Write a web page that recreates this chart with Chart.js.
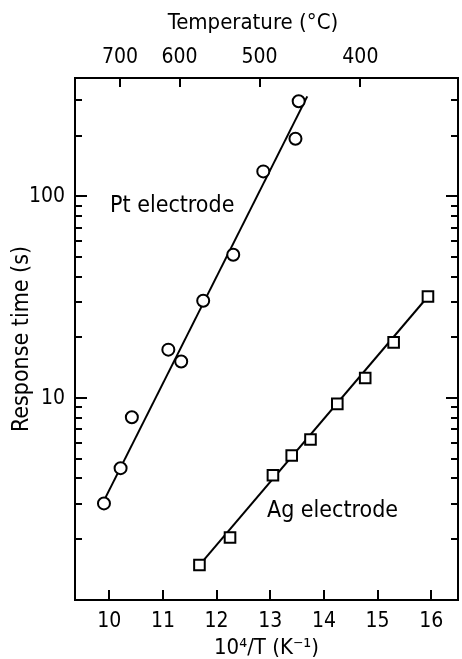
<!DOCTYPE html>
<html><head><meta charset="utf-8">
<script src="https://cdn.jsdelivr.net/npm/chart.js@4/dist/chart.umd.min.js"></script>
<style>html,body{margin:0;padding:0;background:#fff}#wrap{width:462px;height:659px}</style>
</head><body><div id="wrap"><canvas id="c" width="462" height="659"></canvas></div>
<script>
// Pt electrode measurements (10^4/T in K^-1, response time in s)
const ptInvT = [13.53, 13.47, 12.87, 12.31, 11.75, 11.10, 11.34, 10.42, 10.21, 9.90];
const ptTime = [296, 193, 133, 51.4, 30.4, 17.4, 15.2, 8.05, 4.5, 3.01];
// Ag electrode measurements
const agInvT = [11.68, 12.25, 13.05, 13.40, 13.75, 14.25, 14.77, 15.30, 15.94];
const agTime = [1.49, 2.04, 4.15, 5.2, 6.24, 9.37, 12.6, 18.9, 31.9];
// fitted straight lines (end points)
const ptFitInvT = [9.86, 13.69];
const ptFitTime = [2.96, 313];
const agFitInvT = [11.68, 15.94];
const agFitTime = [1.49, 31.9];
// axes
const xTicks = [10, 11, 12, 13, 14, 15, 16];
const tempLabels = ['700', '600', '500', '400'];
const tempTickPos = [10.20, 11.31, 12.80, 14.68];
const yMajorTicks = [10, 100];
const yMinorTicks = [2, 3, 4, 5, 6, 7, 8, 9, 20, 30, 40, 50, 60, 70, 80, 90, 200, 300];

const FAM = "'DejaVu Sans Condensed', 'DejaVu Sans', sans-serif";
const tickFont = {family: FAM, size: 21};
const titleFont = {family: FAM, size: 22};
const yTitleFont = {family: FAM, size: 23};
const pts = (xs, ys) => xs.map((x, i) => ({x: x, y: ys[i]}));

const noPad = s => { s.paddingLeft = 0; s.paddingRight = 0; s.paddingTop = 0; s.paddingBottom = 0; };
const borderOpt = {display: true, color: '#000', width: 2};
const gridOpt = {display: true, drawOnChartArea: false, drawTicks: false};

const inwardTicks = {
  id: 'inwardTicks',
  afterDatasetsDraw(chart) {
    const ctx = chart.ctx, a = chart.chartArea, s = chart.scales;
    ctx.save();
    ctx.strokeStyle = '#000';
    ctx.lineWidth = 2;
    ctx.beginPath();
    xTicks.forEach(v => { const p = Math.round(s.x.getPixelForValue(v)); ctx.moveTo(p, a.bottom); ctx.lineTo(p, a.bottom - 10); });
    tempTickPos.forEach(v => { const p = Math.round(s.x2.getPixelForValue(v)); ctx.moveTo(p, a.top); ctx.lineTo(p, a.top + 9); });
    const yt = (v, len) => {
      const p = Math.round(s.y.getPixelForValue(v));
      ctx.moveTo(a.left, p); ctx.lineTo(a.left + len, p);
      ctx.moveTo(a.right, p); ctx.lineTo(a.right - len, p);
    };
    yMajorTicks.forEach(v => yt(v, 12));
    yMinorTicks.forEach(v => yt(v, 7));
    ctx.stroke();
    // annotations
    ctx.fillStyle = '#000';
    ctx.font = '23px ' + FAM;
    ctx.textBaseline = 'alphabetic';
    ctx.textAlign = 'left';
    ctx.fillText('Pt electrode', 110, 212);
    ctx.fillText('Ag electrode', 267, 517);
    ctx.font = '22px ' + FAM;
    ctx.textAlign = 'center';
    ctx.textBaseline = 'middle';
    ctx.fillText('Temperature (°C)', 253, 23);
    ctx.restore();
  }
};

new Chart(document.getElementById('c'), {
  type: 'scatter',
  data: {
    datasets: [
      {label: 'Pt electrode', data: pts(ptInvT, ptTime), pointStyle: 'circle', pointRadius: 6,
       borderColor: '#000', backgroundColor: '#fff', borderWidth: 2, showLine: false},
      {label: 'Ag electrode', data: pts(agInvT, agTime), pointStyle: 'rect', pointRadius: 7.5,
       borderColor: '#000', backgroundColor: '#fff', borderWidth: 2, showLine: false},
      {label: 'Pt fit', data: pts(ptFitInvT, ptFitTime), showLine: true, pointRadius: 0,
       borderColor: '#000', borderWidth: 2, fill: false},
      {label: 'Ag fit', data: pts(agFitInvT, agFitTime), showLine: true, pointRadius: 0,
       borderColor: '#000', borderWidth: 2, fill: false}
    ]
  },
  options: {
    responsive: false,
    devicePixelRatio: 1,
    animation: false,
    layout: {padding: 0, autoPadding: false},
    plugins: {legend: {display: false}, tooltip: {enabled: false}},
    scales: {
      x: {
        type: 'linear', position: 'bottom', min: 9.36, max: 16.5,
        afterBuildTicks: s => { s.ticks = xTicks.map(v => ({value: v})); },
        ticks: {font: tickFont, color: '#000', padding: 9, autoSkip: false, maxRotation: 0, callback: v => String(v)},
        grid: gridOpt, border: borderOpt,
        title: {display: true, text: '10\u2074/T (K\u207B\u00B9)', font: titleFont, color: '#000', padding: {top: 0, bottom: -2}},
        afterFit: s => { s.height = 59; noPad(s); }
      },
      x2: {
        type: 'linear', position: 'top', min: 9.36, max: 16.5,
        afterBuildTicks: s => { s.ticks = tempTickPos.map(v => ({value: v})); },
        ticks: {font: tickFont, color: '#000', padding: 8, autoSkip: false, maxRotation: 0,
          callback: (v, i) => tempLabels[i]},
        grid: gridOpt, border: borderOpt,
        afterFit: s => { s.height = 78; noPad(s); }
      },
      y: {
        type: 'logarithmic', position: 'left', min: 1, max: 386,
        afterBuildTicks: s => { s.ticks = yMajorTicks.concat(yMinorTicks).sort((a, b) => a - b).map(v => ({value: v})); },
        ticks: {font: tickFont, color: '#000', padding: 10, autoSkip: false,
          callback: v => (yMajorTicks.indexOf(v) >= 0 ? String(v) : '')},
        grid: gridOpt, border: borderOpt,
        title: {display: true, text: 'Response time (s)', font: yTitleFont, color: '#000', padding: {top: 8, bottom: 0}},
        afterFit: s => { s.width = 75; noPad(s); }
      },
      y2: {
        type: 'logarithmic', position: 'right', min: 1, max: 386,
        ticks: {display: false},
        grid: gridOpt, border: borderOpt,
        afterFit: s => { s.width = 4; noPad(s); }
      }
    }
  },
  plugins: [inwardTicks]
});
</script>
</body></html>
